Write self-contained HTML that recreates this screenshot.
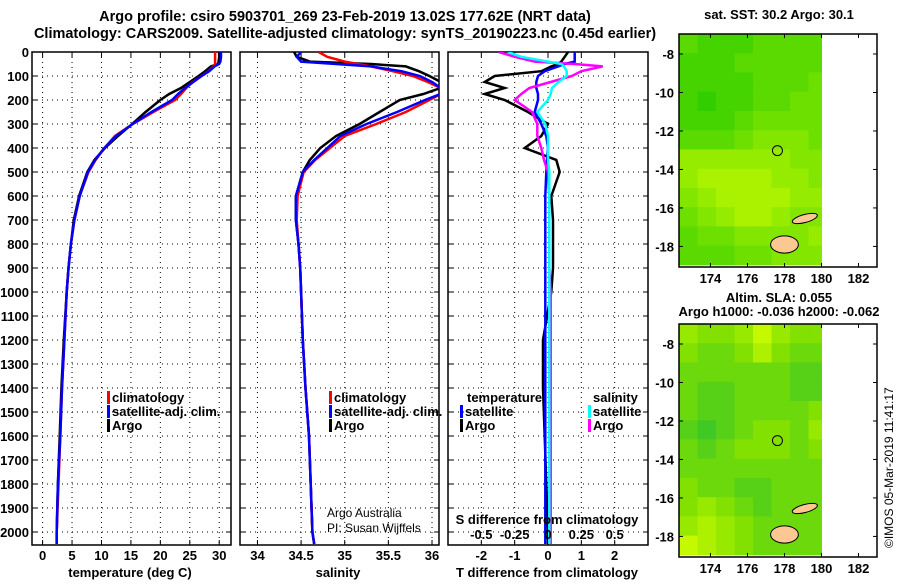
<!DOCTYPE html>
<html><head><meta charset="utf-8"><style>
html,body{margin:0;padding:0;background:#fff;}
svg text{font-family:"Liberation Sans",Arial,sans-serif;}
.b{font-weight:bold;font-size:13px;}
</style></head><body>
<svg id="s" width="900" height="580" xmlns="http://www.w3.org/2000/svg">
<text x="345" y="21" text-anchor="middle" class="b" style="font-size:14.5px">Argo profile: csiro 5903701_269 23-Feb-2019 13.02S 177.62E (NRT data)</text>
<text x="345" y="38" text-anchor="middle" class="b" style="font-size:14.5px">Climatology: CARS2009. Satellite-adjusted climatology: synTS_20190223.nc (0.45d earlier)</text>
<text x="779" y="19" text-anchor="middle" class="b" style="font-size:13px">sat. SST: 30.2 Argo: 30.1</text>
<text x="779" y="302" text-anchor="middle" class="b" style="font-size:13px">Altim. SLA: 0.055</text>
<text x="779" y="316" text-anchor="middle" class="b" style="font-size:13px">Argo h1000: -0.036 h2000: -0.062</text>
<text transform="translate(893,548) rotate(-90)" font-size="12">©IMOS 05-Mar-2019 11:41:17</text>
</svg>
<script>
const depths=[0,20,40,50,60,80,100,125,150,175,200,250,300,350,400,450,500,600,700,800,900,1000,1200,1400,1600,1800,2000,2050];
const tArgo=[30,30,29.9,29.8,28.6,27.6,26.5,25,23.5,21.5,20,17.5,15.2,12.8,10.6,8.8,7.6,6.2,5.3,4.8,4.4,4.1,3.6,3.2,2.9,2.6,2.4,2.4];
const tClim=[29.3,29.3,29.3,29.3,29,28.2,27,25.5,24.4,23.5,22.5,18.8,15.3,12.3,10.5,9,7.8,6.3,5.4,4.8,4.4,4.1,3.7,3.3,3.0,2.7,2.4,2.4];
const tSat=[30.3,30.3,30.2,30,29.2,28.3,27,25.6,24.2,23,22,18.5,15.3,12.5,10.5,8.9,7.7,6.3,5.4,4.8,4.4,4.1,3.7,3.3,3.0,2.6,2.4,2.4];
const sArgo=[34.42,34.45,34.6,35.3,35.7,35.85,35.97,36.1,36.1,35.9,35.63,35.4,35.17,34.9,34.72,34.6,34.52,34.44,34.44,34.47,34.49,34.5,34.52,34.55,34.59,34.61,34.63,34.65];
const sClim=[34.7,34.8,35.0,35.15,35.3,35.55,35.78,35.95,36.1,36.1,35.97,35.7,35.36,35.0,34.83,34.66,34.53,34.46,34.45,34.47,34.49,34.5,34.52,34.55,34.59,34.61,34.63,34.65];
const sSat=[34.5,34.45,34.5,34.9,35.3,35.65,35.86,36.0,36.1,36.1,35.92,35.6,35.25,34.95,34.8,34.65,34.52,34.44,34.44,34.47,34.49,34.5,34.52,34.55,34.59,34.61,34.63,34.65];
const dtArgo=[0.6,0.5,0.4,0.3,0.1,-0.2,-1.6,-1.9,-1.3,-1.9,-1.3,-0.6,0.0,-0.2,-0.7,0.25,0.35,0.1,0.15,0.15,0.15,0.1,-0.15,-0.15,-0.1,-0.05,0,0];
const dtSat=[0.8,0.8,0.8,0.5,0.3,-0.1,-0.3,-0.35,-0.35,-0.3,-0.3,-0.4,-0.2,-0.05,0,-0.03,-0.05,-0.08,-0.08,-0.08,-0.08,-0.08,-0.08,-0.08,-0.08,-0.08,-0.08,-0.08];
const dsArgo=[-0.37,-0.25,-0.1,0.2,0.41,0.25,0.18,0.02,-0.14,-0.2,-0.25,-0.12,-0.08,-0.08,-0.05,-0.03,0,0.01,0.01,0.01,0.01,0.02,0.02,0.02,0.02,0.02,0.02,0.02];
const dsSat=[-0.3,-0.2,0.0,0.1,0.12,0.14,0.14,0.08,0.03,0.02,0.0,-0.08,-0.02,0,0,0,0.01,0.01,0.01,0.01,0.01,0.01,0.01,0.01,0.01,0.01,0.01,0.01];
const depthTicks=[0,100,200,300,400,500,600,700,800,900,1000,1100,1200,1300,1400,1500,1600,1700,1800,1900,2000];
const tTicks=[0,5,10,15,20,25,30];
const sTicks=[34,34.5,35,35.5,36];
const sTickLabels=["34","34.5","35","35.5","36"];
const dTicks=[-2,-1,0,1,2];
const dsTicks=[-0.5,-0.25,0,0.25,0.5];
const latTicks=[-8,-10,-12,-14,-16,-18];
const lonTicks=[174,176,178,180,182];
const sstGrid=["32223333","22233333","22223334","21223344","22234444","33345554","66666655","67777665","56777766","45677655","34455556","33344555"];
const slaGrid=["65568655","54457544","44444433","43344433","43344445","32345546","43455545","44444444","54433444","56543444","67654444","87654444"];

const NS="http://www.w3.org/2000/svg";
const svg=document.getElementById('s');
function el(tag,attrs,parent){const e=document.createElementNS(NS,tag);for(const k in attrs)e.setAttribute(k,attrs[k]);(parent||svg).appendChild(e);return e;}
const Y0=52,YS=0.24;
function yD(d){return Y0+d*YS;}
const boxBottom=545;
const panels=[
 {x0:32,x1:231,min:-1.8,max:32},
 {x0:240,x1:439,min:33.8,max:36.08},
 {x0:448,x1:648,min:-3,max:3}];
function xs(p,v){return p.x0+(v-p.min)*(p.x1-p.x0)/(p.max-p.min);}

function gridAndBox(p,xt,name){
  const g=el('g',{});
  
  
  depthTicks.forEach(d=>{const y=yD(d);
    el('line',{x1:p.x0,x2:p.x1,y1:y,y2:y,stroke:'#000','stroke-width':1,'stroke-dasharray':'1,4'},g);
    el('line',{x1:p.x0,x2:p.x0+5,y1:y,y2:y,stroke:'#000'},g);
    el('line',{x1:p.x1-5,x2:p.x1,y1:y,y2:y,stroke:'#000'},g);});
  xt.forEach(v=>{const x=xs(p,v);
    el('line',{x1:x,x2:x,y1:Y0,y2:boxBottom,stroke:'#000','stroke-width':1,'stroke-dasharray':'1,4'},g);
    el('line',{x1:x,x2:x,y1:boxBottom-5,y2:boxBottom,stroke:'#000'},g);
    el('line',{x1:x,x2:x,y1:Y0,y2:Y0+5,stroke:'#000'},g);});
  const r=el('rect',{x:p.x0,y:Y0,width:p.x1-p.x0,height:boxBottom-Y0,fill:'none',stroke:'#000','stroke-width':1.5});
  
  
}
function txt(x,y,s,attrs,name){const t=el('text',Object.assign({x:x,y:y},attrs||{}));t.textContent=s;
  
  return t;}
function clip(p,id){const c=el('clipPath',{id:id});el('rect',{x:p.x0,y:Y0,width:p.x1-p.x0,height:boxBottom-Y0},c);}

depthTicks.forEach(d=>txt(29,yD(d)+5,String(d),{'text-anchor':'end',class:'b'},'depth-tick-label'));

const p1=panels[0];gridAndBox(p1,tTicks,'temperature-panel');clip(p1,'c1');
const g1=el('g',{'clip-path':'url(#c1)'});
[[tArgo,'#000','temp-argo-line'],[tClim,'#f00','temp-climatology-line'],[tSat,'#0000ff','temp-satellite-line']].forEach(a=>{
  const pts=depths.map((d,i)=>xs(p1,a[0][i]).toFixed(1)+','+yD(d).toFixed(1)).join(' ');
  const l=el('polyline',{points:pts,fill:'none',stroke:a[1],'stroke-width':2.5},g1);
  
  });
tTicks.forEach(v=>txt(xs(p1,v),560,String(v),{'text-anchor':'middle',class:'b'},'temp-tick-label'));
txt(130,577,'temperature (deg C)',{'text-anchor':'middle',class:'b'},'temperature-axis-title');

const p2=panels[1];gridAndBox(p2,sTicks,'salinity-panel');clip(p2,'c2');
const g2=el('g',{'clip-path':'url(#c2)'});
[[sArgo,'#000','sal-argo-line'],[sClim,'#f00','sal-climatology-line'],[sSat,'#0000ff','sal-satellite-line']].forEach(a=>{
  const pts=depths.map((d,i)=>xs(p2,a[0][i]).toFixed(1)+','+yD(d).toFixed(1)).join(' ');
  const l=el('polyline',{points:pts,fill:'none',stroke:a[1],'stroke-width':2.5},g2);
  
  });
sTicks.forEach((v,i)=>txt(xs(p2,v),560,sTickLabels[i],{'text-anchor':'middle',class:'b'},'sal-tick-label'));
txt(338,577,'salinity',{'text-anchor':'middle',class:'b'},'salinity-axis-title');
txt(327,517,'Argo Australia',{'font-size':12},'credit-line-1');
txt(327,532,'PI: Susan Wijffels',{'font-size':12},'credit-line-2');

const p3=panels[2];gridAndBox(p3,dTicks,'difference-panel');clip(p3,'c3');
const g3=el('g',{'clip-path':'url(#c3)'});
[[dtArgo,'#000','dT-argo-line',1],[dtSat,'#0000ff','dT-satellite-line',1],[dsArgo,'#ff00ff','dS-argo-line',4],[dsSat,'#00ffff','dS-satellite-line',4]].forEach(a=>{
  const pts=depths.map((d,i)=>xs(p3,a[0][i]*a[3]).toFixed(1)+','+yD(d).toFixed(1)).join(' ');
  const l=el('polyline',{points:pts,fill:'none',stroke:a[1],'stroke-width':2.5},g3);
  
  });
dTicks.forEach(v=>txt(xs(p3,v),560,String(v),{'text-anchor':'middle',class:'b'},'dT-tick-label'));
dsTicks.forEach(v=>txt(xs(p3,v*4),539,String(v),{'text-anchor':'middle',class:'b',fill:'#000'},'dS-tick-label'));
txt(547,524,'S difference from climatology',{'text-anchor':'middle',class:'b'},'dS-axis-title');
txt(547,577,'T difference from climatology',{'text-anchor':'middle',class:'b'},'dT-axis-title');

function legItem(x,y,color,label,name){
  const r=el('rect',{x:x,y:y-11,width:3,height:13,fill:color});
  
  
  txt(x+5,y,label,{class:'b'},name);
}
[[107],[329]].forEach(a=>{const x=a[0];
  legItem(x,402,'#f00','climatology','legend-climatology');
  legItem(x,416,'#0000ff','satellite-adj. clim.','legend-satellite-adj');
  legItem(x,430,'#000','Argo','legend-argo');});
txt(467,402,'temperature',{class:'b'},'legend-temperature-header');
legItem(460,416,'#0000ff','satellite','legend-dT-satellite');
legItem(460,430,'#000','Argo','legend-dT-argo');
txt(593,402,'salinity',{class:'b'},'legend-salinity-header');
legItem(588,416,'#00ffff','satellite','legend-dS-satellite');
legItem(588,430,'#ff00ff','Argo','legend-dS-argo');

function sstColor(v){return 'rgb('+Math.round(30+v*20)+','+Math.round(200+v*6)+',0)';}
function slaColor(v){return 'rgb('+Math.round(20+v*22)+','+Math.round(185+v*8)+','+Math.max(0,Math.round(60-v*12))+')';}
function drawMap(top,bottom,grid,colorFn,name){
  const m={x0:679,x1:877,y0:top,y1:bottom,lon0:172.3,lon1:183,lat0:-6.96,lat1:-19.07};
  const X=lon=>m.x0+(lon-m.lon0)*(m.x1-m.x0)/(m.lon1-m.lon0);
  const Y=lat=>m.y0+(lat-m.lat0)*(m.y1-m.y0)/(m.lat1-m.lat0);
  const g=el('g',{});
  
  
  grid.forEach((row,r)=>{for(let c=0;c<row.length;c++){
    const lonA=m.lon0+c, lonB=Math.min(180,m.lon0+c+1);
    const latA=m.lat0-r, latB=Math.max(m.lat1,m.lat0-r-1);
    const cell=el('rect',{x:X(lonA),y:Y(latA),width:X(lonB)-X(lonA)+0.5,height:Y(latB)-Y(latA)+0.5,fill:colorFn(+row[c])},g);
    
    }});
  const vl=el('ellipse',{cx:X(178.0),cy:Y(-17.9),rx:X(178.75)-X(178.0),ry:Y(-18.35)-Y(-17.9),fill:'#fac890',stroke:'#000','stroke-width':1},g);
  
  
  const va=el('ellipse',{cx:X(179.1),cy:Y(-16.55),rx:X(179.8)-X(179.1),ry:4,fill:'#fac890',stroke:'#000','stroke-width':1,transform:'rotate(-15 '+X(179.1)+' '+Y(-16.55)+')'},g);
  
  
  const pos=el('circle',{cx:X(177.62),cy:Y(-13.02),r:5,fill:'none',stroke:'#000','stroke-width':1},g);
  
  
  const fr=el('rect',{x:m.x0,y:m.y0,width:m.x1-m.x0,height:m.y1-m.y0,fill:'none',stroke:'#000','stroke-width':1.5},g);
  
  
  latTicks.forEach(lat=>{const y=Y(lat);
    el('line',{x1:m.x0,x2:m.x0+4,y1:y,y2:y,stroke:'#000'},g);
    el('line',{x1:m.x1-4,x2:m.x1,y1:y,y2:y,stroke:'#000'},g);
    txt(m.x0-5,y+5,String(lat),{'text-anchor':'end',class:'b'},'lat-tick-label');});
  lonTicks.forEach(lon=>{const x=X(lon);
    el('line',{x1:x,x2:x,y1:m.y1-4,y2:m.y1,stroke:'#000'},g);
    el('line',{x1:x,x2:x,y1:m.y0,y2:m.y0+4,stroke:'#000'},g);
    txt(x,m.y1+16,String(lon),{'text-anchor':'middle',class:'b'},'lon-tick-label');});
}
drawMap(34,267,sstGrid,sstColor,'sst-map');
drawMap(324,557,slaGrid,slaColor,'sla-map');
</script>
</body></html>
